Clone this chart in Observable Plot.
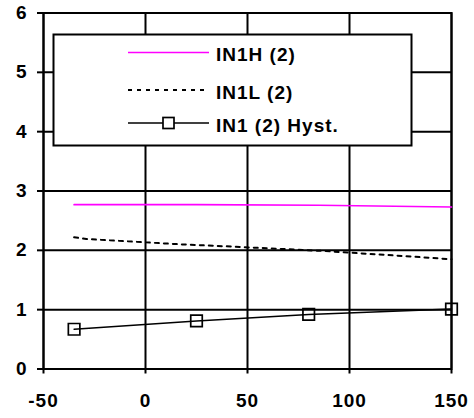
<!DOCTYPE html>
<html>
<head>
<meta charset="utf-8">
<script src="https://cdn.jsdelivr.net/npm/d3@7"></script>
<script src="https://cdn.jsdelivr.net/npm/@observablehq/plot@0.6"></script>
<style>
  html, body { margin: 0; padding: 0; background: #fff; }
  #chart { width: 474px; height: 418px; }
</style>
</head>
<body>
<div id="chart"></div>
<script>
const xTicks = [-50, 0, 50, 100, 150];
const yTicks = [0, 1, 2, 3, 4, 5, 6];

const in1hX = [-35, 25, 85, 150];
const in1hY = [2.77, 2.77, 2.76, 2.73];

const in1lX = [-35, -29, 18, 38, 87, 128, 150];
const in1lY = [2.22, 2.19, 2.10, 2.07, 1.99, 1.90, 1.85];

const hystX = [-35, 25, 80, 150];
const hystY = [0.67, 0.81, 0.92, 1.01];

const seriesNames = ["IN1H (2)", "IN1L (2)", "IN1 (2) Hyst."];

const in1h = in1hX.map((x, i) => ({x, y: in1hY[i]}));
const in1l = in1lX.map((x, i) => ({x, y: in1lY[i]}));
const hyst = hystX.map((x, i) => ({x, y: hystY[i]}));

const font = "'Liberation Sans', Arial, sans-serif";

const chart = Plot.plot({
  width: 474,
  height: 418,
  marginLeft: 43,
  marginRight: 23,
  marginTop: 12.5,
  marginBottom: 49.5,
  style: {fontFamily: font, fontSize: "19px", fontWeight: "bold", color: "#000", background: "#fff"},
  x: {domain: [-50, 150], ticks: xTicks},
  y: {domain: [0, 6], ticks: yTicks},
  marks: [
    Plot.gridX(xTicks, {stroke: "#000", strokeOpacity: 1, strokeWidth: 2}),
    Plot.gridY(yTicks, {stroke: "#000", strokeOpacity: 1, strokeWidth: 2}),
    Plot.axisX({ticks: xTicks, tickFormat: d => String(d), tickSize: 5, tickPadding: 19, label: null, stroke: "#000", strokeWidth: 2, fontSize: 19, fontWeight: "bold"}),
    Plot.axisY({ticks: yTicks, tickFormat: d => String(d), tickSize: 6, tickPadding: 10, label: null, stroke: "#000", strokeWidth: 2, fontSize: 19, fontWeight: "bold"}),
    Plot.frame({stroke: "#000", strokeWidth: 2}),
    Plot.line(in1h, {x: "x", y: "y", stroke: "#ff00ff", strokeWidth: 1.7}),
    Plot.line(in1l, {x: "x", y: "y", stroke: "#000", strokeWidth: 2, strokeDasharray: "4,5"}),
    Plot.line(hyst, {x: "x", y: "y", stroke: "#000", strokeWidth: 1.5}),
    Plot.dot(hyst, {x: "x", y: "y", symbol: "square", r: 6.5, stroke: "#000", strokeWidth: 1.7, fill: "none"})
  ]
});

document.getElementById("chart").appendChild(chart);

const svg = d3.select(chart);
svg.selectAll("text").attr("letter-spacing", "1px");

// Legend box inside plot area
const lg = svg.append("g").attr("font-family", font).attr("font-size", 19)
  .attr("font-weight", "bold").attr("text-anchor", "start");
lg.append("rect").attr("x", 53.5).attr("y", 34.5).attr("width", 358).attr("height", 111)
  .attr("fill", "#fff").attr("stroke", "#000").attr("stroke-width", 2);
const rows = [52.5, 90, 123];
const styles = [
  {stroke: "#ff00ff", dash: null, w: 1.7},
  {stroke: "#000", dash: "4,5", w: 2},
  {stroke: "#000", dash: null, w: 1.5}
];
rows.forEach((ry, i) => {
  lg.append("line").attr("x1", 128).attr("x2", 209).attr("y1", ry).attr("y2", ry)
    .attr("stroke", styles[i].stroke).attr("stroke-width", styles[i].w)
    .attr("stroke-dasharray", styles[i].dash);
  if (i === 2) {
    lg.append("rect").attr("x", 163).attr("y", ry - 5.5).attr("width", 11).attr("height", 11)
      .attr("fill", "#fff").attr("stroke", "#000").attr("stroke-width", 1.7);
  }
  lg.append("text").attr("x", 216).attr("y", ry + 2).attr("dy", "0.36em")
    .attr("letter-spacing", "1px").text(seriesNames[i]);
});
</script>
</body>
</html>
